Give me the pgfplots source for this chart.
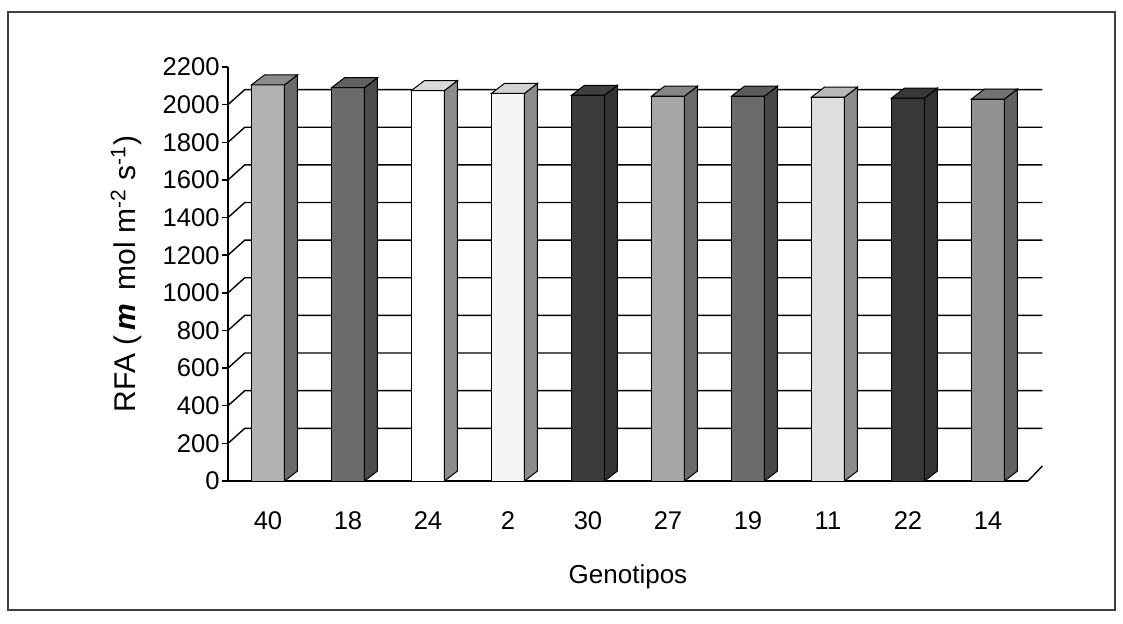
\documentclass[border=0pt]{standalone}
\usepackage{pgfplots}
\pgfplotsset{compat=1.18}
\usepackage{fontspec}
\setmainfont{Liberation Sans}
\begin{document}
\begin{tikzpicture}
\begin{axis}[
  at={(0,0)}, anchor=south west,
  scale only axis, width=400pt, height=207pt,
  xmin=-0.5, xmax=9.5, ymin=0, ymax=2200,
  axis lines*=left, clip=false,
  axis line style={black, line width=0.75pt},
  tick style={black, line width=0.75pt},
  tick align=outside,
  xtick={0,1,2,3,4,5,6,7,8,9},
  xticklabels={40,18,24,2,30,27,19,11,22,14},
  major x tick style={draw=none},
  extra x ticks={-0.5,0.5,1.5,2.5,3.5,4.5,5.5,6.5,7.5,8.5,9.5},
  extra x tick labels={},
  extra x tick style={major tick length=4pt, tick style={draw=black}},
  ytick={0,200,...,2200},
  major tick length=3pt,
  /pgf/number format/1000 sep={},
  /pgf/number format/assume math mode=true,
  scaled ticks=false,
  tick label style={font=\fontsize{12.8}{14}\selectfont},
  xticklabel style={anchor=center, yshift=-17pt},
  yticklabel style={inner sep=1pt},
  xlabel={Genotipos},
  xlabel style={font=\fontsize{13}{15}\selectfont, at={(axis description cs:0.5,-0.232)}, anchor=center},
  ylabel={RFA (\,\textbf{\textit{m}}\, mol m\textsuperscript{-2} s\textsuperscript{-1})},
  ylabel style={font=\fontsize{15}{17}\selectfont, at={(axis description cs:-0.127,0.5)}, anchor=center},
]
% back wall gridlines
\addplot[black, line width=0.7pt, mark=none] coordinates {(-0.5,200) (-0.29,280) (9.68,280)};
\addplot[black, line width=0.7pt, mark=none] coordinates {(-0.5,400) (-0.29,480) (9.68,480)};
\addplot[black, line width=0.7pt, mark=none] coordinates {(-0.5,600) (-0.29,680) (9.68,680)};
\addplot[black, line width=0.7pt, mark=none] coordinates {(-0.5,800) (-0.29,880) (9.68,880)};
\addplot[black, line width=0.7pt, mark=none] coordinates {(-0.5,1000) (-0.29,1080) (9.68,1080)};
\addplot[black, line width=0.7pt, mark=none] coordinates {(-0.5,1200) (-0.29,1280) (9.68,1280)};
\addplot[black, line width=0.7pt, mark=none] coordinates {(-0.5,1400) (-0.29,1480) (9.68,1480)};
\addplot[black, line width=0.7pt, mark=none] coordinates {(-0.5,1600) (-0.29,1680) (9.68,1680)};
\addplot[black, line width=0.7pt, mark=none] coordinates {(-0.5,1800) (-0.29,1880) (9.68,1880)};
\addplot[black, line width=0.7pt, mark=none] coordinates {(-0.5,2000) (-0.29,2080) (9.68,2080)};
\addplot[black, line width=0.7pt, mark=none] coordinates {(9.5,0) (9.68,80)};
% bars: front, side, top
% 40 : 2105
\addplot[fill=black!30, draw=black, line width=0.5pt, mark=none] coordinates {(-0.206,0) (0.206,0) (0.206,2105) (-0.206,2105)} -- cycle;
\addplot[fill=black!58, draw=black, line width=0.5pt, mark=none] coordinates {(0.206,0) (0.3685,53) (0.3685,2158) (0.206,2105)} -- cycle;
\addplot[fill=black!45, draw=black, line width=0.5pt, mark=none] coordinates {(-0.206,2105) (0.206,2105) (0.3685,2158) (-0.0435,2158)} -- cycle;
% 18 : 2090
\addplot[fill=black!58, draw=black, line width=0.5pt, mark=none] coordinates {(0.794,0) (1.206,0) (1.206,2090) (0.794,2090)} -- cycle;
\addplot[fill=black!70, draw=black, line width=0.5pt, mark=none] coordinates {(1.206,0) (1.3685,53) (1.3685,2143) (1.206,2090)} -- cycle;
\addplot[fill=black!62, draw=black, line width=0.5pt, mark=none] coordinates {(0.794,2090) (1.206,2090) (1.3685,2143) (0.9565,2143)} -- cycle;
% 24 : 2075
\addplot[fill=white, draw=black, line width=0.5pt, mark=none] coordinates {(1.794,0) (2.206,0) (2.206,2075) (1.794,2075)} -- cycle;
\addplot[fill=black!45, draw=black, line width=0.5pt, mark=none] coordinates {(2.206,0) (2.3685,53) (2.3685,2128) (2.206,2075)} -- cycle;
\addplot[fill=black!15, draw=black, line width=0.5pt, mark=none] coordinates {(1.794,2075) (2.206,2075) (2.3685,2128) (1.9565,2128)} -- cycle;
% 2 : 2060
\addplot[fill=black!4, draw=black, line width=0.5pt, mark=none] coordinates {(2.794,0) (3.206,0) (3.206,2060) (2.794,2060)} -- cycle;
\addplot[fill=black!45, draw=black, line width=0.5pt, mark=none] coordinates {(3.206,0) (3.3685,53) (3.3685,2113) (3.206,2060)} -- cycle;
\addplot[fill=black!18, draw=black, line width=0.5pt, mark=none] coordinates {(2.794,2060) (3.206,2060) (3.3685,2113) (2.9565,2113)} -- cycle;
% 30 : 2050
\addplot[fill=black!77, draw=black, line width=0.5pt, mark=none] coordinates {(3.794,0) (4.206,0) (4.206,2050) (3.794,2050)} -- cycle;
\addplot[fill=black!80, draw=black, line width=0.5pt, mark=none] coordinates {(4.206,0) (4.3685,53) (4.3685,2103) (4.206,2050)} -- cycle;
\addplot[fill=black!75, draw=black, line width=0.5pt, mark=none] coordinates {(3.794,2050) (4.206,2050) (4.3685,2103) (3.9565,2103)} -- cycle;
% 27 : 2045
\addplot[fill=black!35, draw=black, line width=0.5pt, mark=none] coordinates {(4.794,0) (5.206,0) (5.206,2045) (4.794,2045)} -- cycle;
\addplot[fill=black!58, draw=black, line width=0.5pt, mark=none] coordinates {(5.206,0) (5.3685,53) (5.3685,2098) (5.206,2045)} -- cycle;
\addplot[fill=black!48, draw=black, line width=0.5pt, mark=none] coordinates {(4.794,2045) (5.206,2045) (5.3685,2098) (4.9565,2098)} -- cycle;
% 19 : 2045
\addplot[fill=black!58, draw=black, line width=0.5pt, mark=none] coordinates {(5.794,0) (6.206,0) (6.206,2045) (5.794,2045)} -- cycle;
\addplot[fill=black!72, draw=black, line width=0.5pt, mark=none] coordinates {(6.206,0) (6.3685,53) (6.3685,2098) (6.206,2045)} -- cycle;
\addplot[fill=black!64, draw=black, line width=0.5pt, mark=none] coordinates {(5.794,2045) (6.206,2045) (6.3685,2098) (5.9565,2098)} -- cycle;
% 11 : 2040
\addplot[fill=black!13, draw=black, line width=0.5pt, mark=none] coordinates {(6.794,0) (7.206,0) (7.206,2040) (6.794,2040)} -- cycle;
\addplot[fill=black!45, draw=black, line width=0.5pt, mark=none] coordinates {(7.206,0) (7.3685,53) (7.3685,2093) (7.206,2040)} -- cycle;
\addplot[fill=black!28, draw=black, line width=0.5pt, mark=none] coordinates {(6.794,2040) (7.206,2040) (7.3685,2093) (6.9565,2093)} -- cycle;
% 22 : 2035
\addplot[fill=black!78, draw=black, line width=0.5pt, mark=none] coordinates {(7.794,0) (8.206,0) (8.206,2035) (7.794,2035)} -- cycle;
\addplot[fill=black!80, draw=black, line width=0.5pt, mark=none] coordinates {(8.206,0) (8.3685,53) (8.3685,2088) (8.206,2035)} -- cycle;
\addplot[fill=black!78, draw=black, line width=0.5pt, mark=none] coordinates {(7.794,2035) (8.206,2035) (8.3685,2088) (7.9565,2088)} -- cycle;
% 14 : 2030
\addplot[fill=black!43, draw=black, line width=0.5pt, mark=none] coordinates {(8.794,0) (9.206,0) (9.206,2030) (8.794,2030)} -- cycle;
\addplot[fill=black!62, draw=black, line width=0.5pt, mark=none] coordinates {(9.206,0) (9.3685,53) (9.3685,2083) (9.206,2030)} -- cycle;
\addplot[fill=black!55, draw=black, line width=0.5pt, mark=none] coordinates {(8.794,2030) (9.206,2030) (9.3685,2083) (8.9565,2083)} -- cycle;
\end{axis}
\draw[black!75, line width=1pt] (-110pt,-64.5pt) rectangle (443.5pt,234.5pt);
\pgfresetboundingbox
\useasboundingbox (-114pt,-71pt) rectangle (447.5pt,240.5pt);
\end{tikzpicture}
\end{document}
